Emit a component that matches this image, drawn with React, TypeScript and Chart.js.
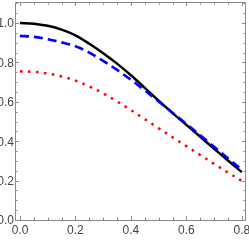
import React, { useEffect, useRef } from "react";
import { Chart, registerables } from "chart.js";

Chart.register(...registerables);

const xs = [0, 0.05, 0.1, 0.15, 0.2, 0.25, 0.3, 0.35, 0.4, 0.45, 0.5, 0.55, 0.6, 0.65, 0.7, 0.75, 0.8];
const blackSeries = [1.0, 0.997, 0.986, 0.967, 0.938, 0.895, 0.847, 0.794, 0.735, 0.671, 0.606, 0.543, 0.483, 0.423, 0.362, 0.302, 0.243];
const blueSeries = [0.935, 0.93, 0.918, 0.902, 0.882, 0.85, 0.808, 0.762, 0.712, 0.658, 0.602, 0.545, 0.488, 0.43, 0.372, 0.313, 0.255];
const redSeries = [0.755, 0.752, 0.744, 0.729, 0.708, 0.678, 0.643, 0.602, 0.558, 0.512, 0.466, 0.42, 0.375, 0.33, 0.285, 0.241, 0.198];

const xTickLabels = ["0.0", "0.2", "0.4", "0.6", "0.8"];
const yTickLabels = ["0.0", "0.2", "0.4", "0.6", "0.8", "1.0"];

const FONT = '12px "Liberation Sans Narrow", "Liberation Sans", Arial, sans-serif';

const framePlugin = {
  id: "mmaFrame",
  afterDraw(chart: any) {
    const ctx = chart.ctx;
    const { left, right, top, bottom } = chart.chartArea;
    const xs_ = chart.scales.x;
    const ys_ = chart.scales.y;
    ctx.save();
    ctx.strokeStyle = "#8a8a8a";
    ctx.lineWidth = 1;
    ctx.beginPath();
    ctx.rect(Math.round(left) + 0.5, Math.round(top) + 0.5, Math.round(right - left) - 1, Math.round(bottom - top));
    ctx.stroke();
    ctx.beginPath();
    for (let i = 0; i <= 16; i++) {
      const v = i * 0.05;
      const major = i % 4 === 0;
      const len = major ? 4 : 2.5;
      const px = Math.round(xs_.getPixelForValue(v)) + 0.5;
      ctx.moveTo(px, bottom);
      ctx.lineTo(px, bottom - len);
      ctx.moveTo(px, top);
      ctx.lineTo(px, top + len);
    }
    for (let i = 0; i <= 22; i++) {
      const v = i * 0.05;
      const major = i % 4 === 0;
      const len = major ? 4 : 2.5;
      const py = Math.round(ys_.getPixelForValue(v)) + 0.5;
      ctx.moveTo(left, py);
      ctx.lineTo(left + len, py);
      ctx.moveTo(right, py);
      ctx.lineTo(right - len, py);
    }
    ctx.stroke();
    ctx.fillStyle = "#444";
    ctx.font = FONT;
    ctx.textAlign = "center";
    ctx.textBaseline = "top";
    xTickLabels.forEach((t) => {
      const px = xs_.getPixelForValue(parseFloat(t));
      ctx.fillText(t, px, bottom + 5);
    });
    ctx.textAlign = "right";
    ctx.textBaseline = "middle";
    yTickLabels.forEach((t) => {
      const py = ys_.getPixelForValue(parseFloat(t));
      ctx.fillText(t, left - 1, py + 1);
    });
    ctx.restore();
  },
};

export default function App() {
  const ref = useRef<HTMLCanvasElement>(null);
  useEffect(() => {
    document.body.style.margin = "0";
    const mk = (arr: number[]) => xs.map((x, i) => ({ x, y: arr[i] }));
    const chart = new Chart(ref.current!, {
      type: "line",
      data: {
        datasets: [
          {
            data: mk(redSeries),
            borderColor: "#ff0000",
            borderWidth: 2.5,
            borderDash: [2.5, 5.5],
            pointRadius: 0,
            tension: 0.35,
          },
          {
            data: mk(blueSeries),
            borderColor: "#0000ff",
            borderWidth: 2.6,
            borderDash: [9, 5],
            pointRadius: 0,
            tension: 0.35,
          },
          {
            data: mk(blackSeries),
            borderColor: "#000000",
            borderWidth: 2.5,
            pointRadius: 0,
            tension: 0.35,
          },
        ],
      },
      options: {
        responsive: false,
        animation: false,
        layout: { padding: { left: 15, top: 2, right: 3, bottom: 20 } },
        plugins: { legend: { display: false }, tooltip: { enabled: false } },
        scales: {
          x: { type: "linear", min: -0.018, max: 0.815, display: false },
          y: { type: "linear", min: 0, max: 1.107, display: false },
        },
      },
      plugins: [framePlugin],
    });
    return () => chart.destroy();
  }, []);
  return (
    <div style={{ position: "absolute", left: 0, top: 0, width: 249, height: 240 }}>
      <canvas ref={ref} width={249} height={240} style={{ width: 249, height: 240 }} />
    </div>
  );
}
